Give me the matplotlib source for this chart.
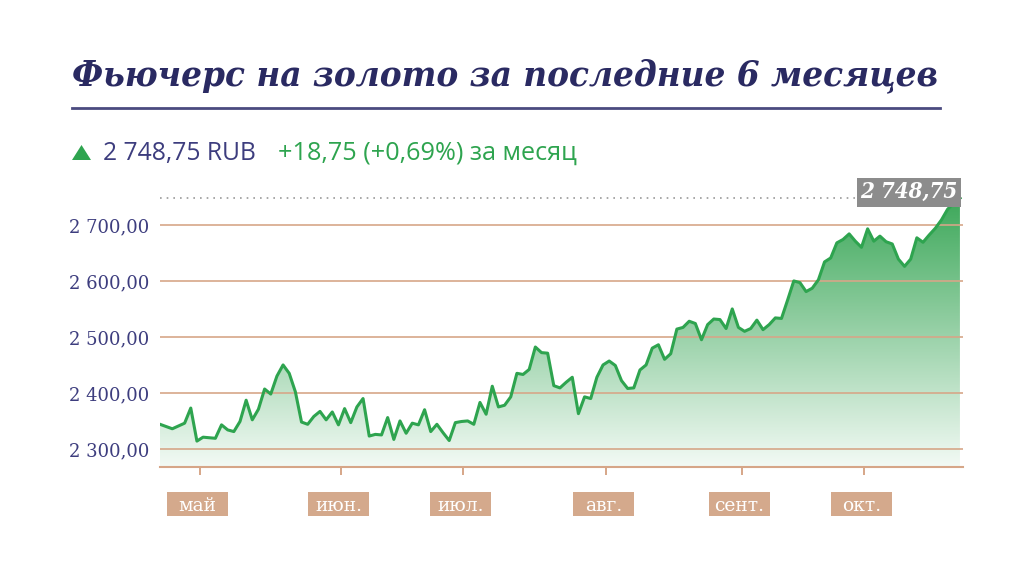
import numpy as np
import matplotlib.pyplot as plt
from matplotlib.colors import LinearSegmentedColormap
from matplotlib.patches import Rectangle, Polygon
from matplotlib.lines import Line2D
from matplotlib.transforms import blended_transform_factory

# daily settlement prices, RUB
values = [
    2345, 2341, 2337, 2342, 2347, 2374, 2315, 2322, 2321, 2320,
    2344, 2335, 2332, 2350, 2388, 2353, 2372, 2408, 2399, 2431,
    2451, 2436, 2403, 2349, 2345, 2359, 2368, 2353, 2367, 2344,
    2373, 2348, 2376, 2391, 2324, 2327, 2326, 2357, 2318, 2351,
    2329, 2347, 2344, 2371, 2332, 2345, 2330, 2316, 2348, 2350,
    2351, 2345, 2384, 2363, 2413, 2376, 2379, 2394, 2436, 2434,
    2443, 2483, 2473, 2472, 2414, 2410, 2420, 2429, 2364, 2394,
    2391, 2429, 2451, 2458, 2450, 2423, 2409, 2410, 2442, 2451,
    2481, 2487, 2461, 2471, 2515, 2518, 2529, 2525, 2496, 2523,
    2533, 2532, 2516, 2551, 2518, 2511, 2516, 2531, 2514, 2523,
    2535, 2534, 2567, 2601, 2598, 2582, 2588, 2603, 2635, 2642,
    2669, 2675, 2685, 2672, 2661, 2694, 2672, 2681, 2671, 2667,
    2640, 2627, 2640, 2678, 2670, 2683, 2695, 2710, 2729, 2740,
    2748.75,
]
month_pos = [6.5, 29.4, 49.2, 72.5, 94.6, 114.4]
month_labels = ['май', 'июн.', 'июл.', 'авг.', 'сент.', 'окт.']
y_ticks = [2300, 2400, 2500, 2600, 2700]
last_price = 2748.75
change = 18.75
change_pct = 0.69

title = 'Фьючерс на золото за последние 6 месяцев'
navy = '#2a2a62'
label_navy = '#3d3d7e'
green = '#2ea44f'
tan = '#d6a688'


def ru(v, sign=False):
    s = f'{v:+,.2f}' if sign else f'{v:,.2f}'
    return s.replace(',', ' ').replace('.', ',')


W, H = 1024, 577
fig = plt.figure(figsize=(W / 100, H / 100), dpi=100)


def fx(px):
    return px / W


def fy(py):
    return 1 - py / H


ax = fig.add_axes([fx(160), fy(467), (963 - 160) / W, (467 - 185) / H])
x = np.arange(len(values))
ymin, ymax = 2268.75, 2772.3

# gradient fill under the line
cmap = LinearSegmentedColormap.from_list('g', ['#f3faf5', '#3da85a'])
grad = np.linspace(0, 1, 256).reshape(-1, 1)
im = ax.imshow(grad, cmap=cmap, origin='lower', aspect='auto',
               extent=[0, x[-1], ymin, last_price], zorder=1)
verts = [(0, ymin)] + list(zip(x, values)) + [(x[-1], ymin)]
clip = Polygon(verts, closed=True, transform=ax.transData)
im.set_clip_path(clip)

for v in y_ticks:
    ax.axhline(v, color=tan, lw=1.4, alpha=0.85, zorder=2)
ax.axhline(last_price, color='#9a9a9a', lw=1.2, ls=(0, (1, 3)), zorder=2)

ax.plot(x, values, color=green, lw=2.2, zorder=3)

ax.set_xlim(0, 130.5)
ax.set_ylim(ymin, ymax)

for s in ['top', 'left', 'right']:
    ax.spines[s].set_visible(False)
ax.spines['bottom'].set_color(tan)
ax.spines['bottom'].set_linewidth(1.5)

ax.set_yticks(y_ticks)
ax.set_yticklabels([ru(v) for v in y_ticks], family='DejaVu Serif',
                   fontsize=13, color=label_navy)
ax.tick_params(axis='y', length=0, pad=8)
ax.set_xticks(month_pos)
ax.set_xticklabels([])
ax.tick_params(axis='x', length=6, width=1.4, color=tan, direction='out')

# month boxes
blend = blended_transform_factory(ax.transData, ax.transAxes)
unit = 130.5 / 803
bw = 61 * unit
for pos, lab in zip(month_pos, month_labels):
    c = pos - 2.5 * unit
    ax.add_patch(Rectangle((c - bw / 2, -(516 - 467) / 282), bw, 24 / 282,
                           transform=blend, facecolor='#d4a98c',
                           edgecolor='none', clip_on=False))
    ax.text(c, -(506 - 467) / 282, lab, transform=blend, ha='center',
            va='center', color='white', fontsize=13.5, family='DejaVu Serif')

# last price tag
ax.annotate(ru(last_price), xy=(x[-1], last_price), xytext=(-51, 6),
            textcoords='offset pixels', ha='center', va='center',
            color='white', fontsize=16, family='DejaVu Serif',
            fontstretch='condensed', weight='bold', style='italic', zorder=5,
            bbox=dict(boxstyle='square,pad=0.15', fc='#8c8c8c', ec='none'))

# title and rule
t = fig.text(fx(72), fy(85), title, ha='left', va='baseline',
             family='DejaVu Serif', fontstretch='condensed', weight='bold',
             style='italic', color=navy, fontsize=24)
fig.canvas.draw()
w = t.get_window_extent().width
t.set_fontsize(24 * 868 / w)
fig.add_artist(Line2D([fx(72), fx(940)], [fy(108), fy(108)],
                      color='#4b4b80', lw=2))

# subtitle
fig.add_artist(Polygon([(fx(72), fy(160)), (fx(91), fy(160)),
                        (fx(81.5), fy(145))], closed=True,
                       transform=fig.transFigure, facecolor=green,
                       edgecolor='none'))
fig.text(fx(103), fy(160), ru(last_price) + ' RUB', ha='left',
         va='baseline', family='Open Sans', fontsize=17.7, color=label_navy)
fig.text(fx(278), fy(160),
         f'{ru(change, True)} ({ru(change_pct, True)}%) за месяц',
         ha='left', va='baseline', family='Open Sans', fontsize=18.2,
         color=green)

fig.savefig('out.png', dpi=100)
